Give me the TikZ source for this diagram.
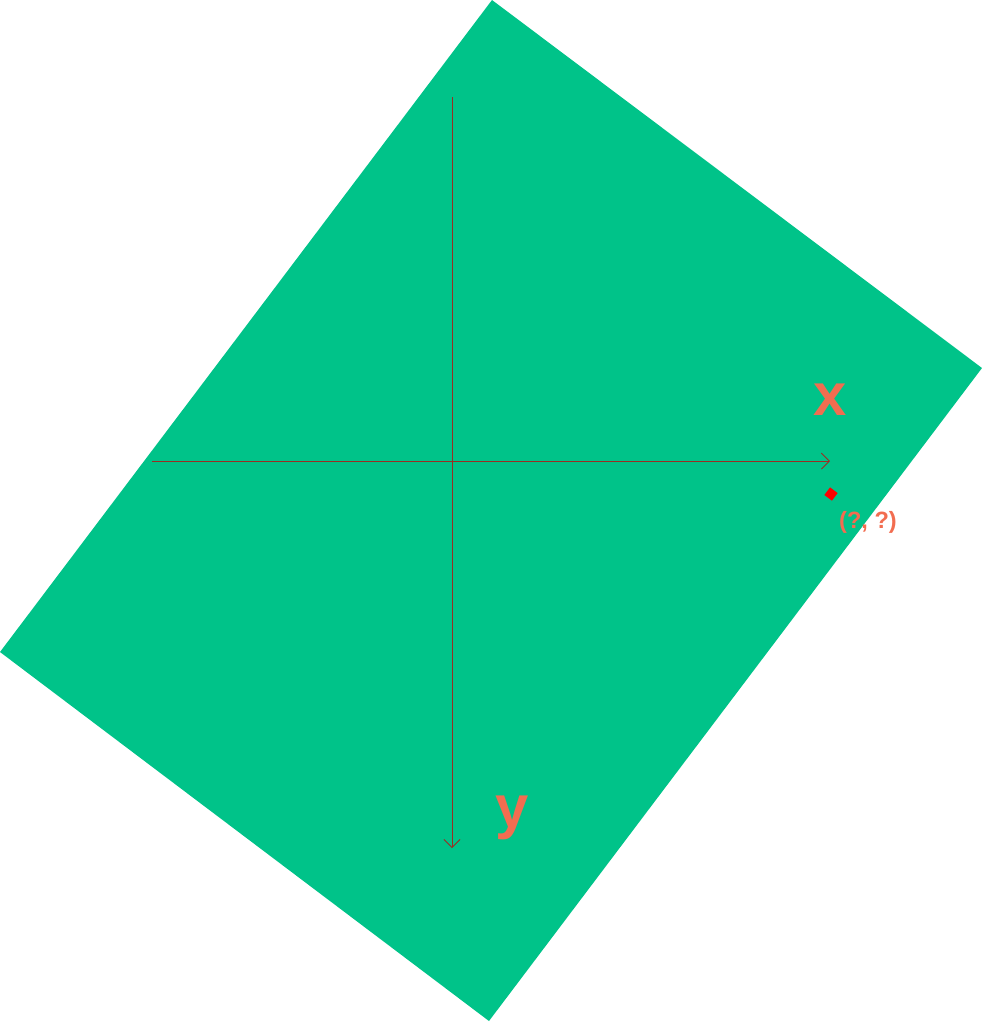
\documentclass[tikz,border=0pt]{standalone}
\usepackage{fontspec}
\setmainfont{Liberation Sans}
\usepackage{tikz}
\usetikzlibrary{arrows.meta}

\begin{document}
\begin{tikzpicture}[
    x=0.01cm, y=-0.01cm,
    axis/.style={draw=axisRed, line width=0.25pt, -{Straight Barb[length=0.8mm, width=1.6mm, line width=0.25pt]}},
    axlab/.style={text=labRed, font=\fontsize{17}{17}\selectfont\bfseries, inner sep=0pt},
    ptlab/.style={text=labRed, font=\fontsize{6.7}{6.7}\selectfont\bfseries, inner sep=0pt},
    dot/.style={fill=red, inner sep=0pt, minimum size=0.095cm, rotate=-36.9},
  ]
  \definecolor{paper}{HTML}{00C389}\definecolor{axisRed}{HTML}{9A2E22}
  \definecolor{labRed}{HTML}{F26D50}

  \useasboundingbox (0,0) rectangle (982,1023);
  % rotated sheet
  \fill[paper] (492,0) -- (982,368) -- (489,1021) -- (0,652) -- cycle;

  \coordinate (xa) at (152,461);
  \coordinate (xb) at (830,461);
  \coordinate (ya) at (452,97);
  \coordinate (yb) at (452,848);
  \draw[axis] (xa) -- (xb);
  \draw[axis] (ya) -- (yb);

  \node[axlab] (xlab) at (830,400) {x};
  \node[axlab] (ylab) at (512,818) {y};

  \node[dot] (pt) at (831,494) {};
  \node[ptlab] (ptl) at (868,522) {(?, ?)};
\end{tikzpicture}
\end{document}
